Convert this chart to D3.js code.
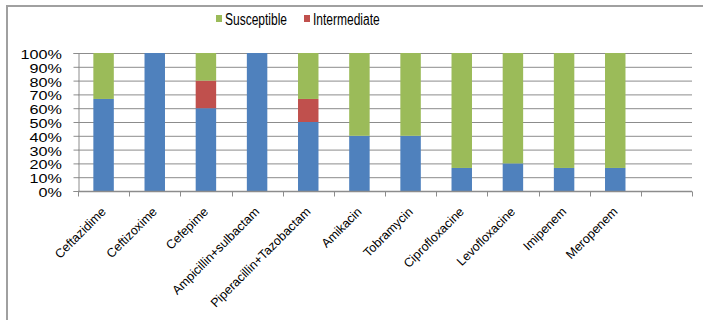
<!DOCTYPE html>
<html>
<head>
<meta charset="utf-8">
<script src="https://cdn.jsdelivr.net/npm/d3@7"></script>
<style>
  body { margin: 0; background: #fff; }
  svg { display: block; font-family: "Liberation Sans", Arial, sans-serif; }
</style>
</head>
<body>
<svg id="chart" width="703" height="320"></svg>
<script>
// Antibiotic categories (last slot is an empty category)
const categories = [
  "Ceftazidime", "Ceftizoxime", "Cefepime", "Ampicillin+sulbactam",
  "Piperacillin+Tazobactam", "Amikacin", "Tobramycin", "Ciprofloxacine",
  "Levofloxacine", "Imipenem", "Meropenem", ""
];
// Percentages per category
const resistant    = [66.7, 100, 60, 100, 50, 40, 40, 16.7, 20, 16.7, 16.7, 0];
const intermediate = [0, 0, 20, 0, 16.7, 0, 0, 0, 0, 0, 0, 0];
const susceptible  = [33.3, 0, 20, 0, 33.3, 60, 60, 83.3, 80, 83.3, 83.3, 0];
const yTicks = [0, 10, 20, 30, 40, 50, 60, 70, 80, 90, 100];

const seriesNames = ["Resistant", "Intermediate", "Susceptible"];
const colors = { Resistant: "#4f81bd", Intermediate: "#c0504d", Susceptible: "#9bbb59" };
const legendItems = ["Susceptible", "Intermediate"];

const rows = categories.map((c, i) => ({
  key: i, name: c,
  Resistant: resistant[i], Intermediate: intermediate[i], Susceptible: susceptible[i]
}));

const svg = d3.select("#chart");
const margin = { left: 78, right: 11, top: 53, bottom: 129 };
const W = 703, H = 320;

// outer frame
svg.append("rect")
  .attr("x", 7).attr("y", 6).attr("width", 720).attr("height", 340)
  .attr("fill", "none").attr("stroke", "#a0a0a0").attr("stroke-width", 2);

const x = d3.scaleBand()
  .domain(rows.map(d => d.key))
  .range([margin.left, W - margin.right])
  .paddingInner(0.6).paddingOuter(0.3);

const y = d3.scaleLinear().domain([0, 100]).range([H - margin.bottom, margin.top]);

// gridlines
svg.append("g").selectAll("line").data(yTicks.filter(t => t > 0)).join("line")
  .attr("x1", margin.left).attr("x2", W - margin.right)
  .attr("y1", d => y(d) + 0.5).attr("y2", d => y(d) + 0.5)
  .attr("stroke", "#8c8c8c").attr("stroke-width", 1);

// stacked bars
const stack = d3.stack().keys(seriesNames)(rows);
svg.append("g").selectAll("g").data(stack).join("g")
  .attr("fill", s => colors[s.key])
  .selectAll("rect").data(s => s).join("rect")
  .attr("x", d => x(d.data.key))
  .attr("width", x.bandwidth())
  .attr("y", d => y(d[1]))
  .attr("height", d => y(d[0]) - y(d[1]));

// y axis
const yAxis = svg.append("g")
  .attr("transform", `translate(${margin.left + 0.5},0)`)
  .call(d3.axisLeft(y).tickValues(yTicks).tickFormat(d => d + "%").tickSize(5).tickPadding(0));
yAxis.select(".domain").attr("stroke", "#8c8c8c");
yAxis.selectAll(".tick line").attr("stroke", "#8c8c8c");
yAxis.selectAll(".tick text")
  .attr("x", null)
  .attr("dy", "0.4em")
  .attr("transform", "translate(-16.5,0) scale(1.2,1)")
  .attr("font-size", 13.5).attr("fill", "#000")
  .attr("font-family", "Liberation Sans, Arial, sans-serif");

// x axis (ticks on band boundaries)
const xAxisG = svg.append("g").attr("transform", `translate(0,${y(0) + 0.5})`);
const step = x.step();
const boundaries = d3.range(categories.length + 1).map(i => margin.left + i * step);
xAxisG.append("line")
  .attr("x1", margin.left).attr("x2", W - margin.right)
  .attr("stroke", "#8c8c8c").attr("stroke-width", 1.5);
xAxisG.selectAll("line.tk").data(boundaries).join("line")
  .attr("class", "tk")
  .attr("x1", d => Math.round(d) + 0.5).attr("x2", d => Math.round(d) + 0.5)
  .attr("y1", 0).attr("y2", 5).attr("stroke", "#8c8c8c");
xAxisG.selectAll("text").data(rows).join("text")
  .attr("transform", d => `translate(${x(d.key) + x.bandwidth() / 2 + 3},${21}) rotate(-45)`)
  .attr("text-anchor", "end")
  .attr("font-size", 12.5)
  .attr("fill", "#000")
  .text(d => d.name);

// legend
const legend = svg.append("g");
const legendX = [216, 304];
legendItems.forEach((name, i) => {
  const g = legend.append("g").attr("transform", `translate(${legendX[i]},15)`);
  g.append("rect").attr("width", 6).attr("height", 7).attr("fill", colors[name]);
  g.append("text")
    .attr("transform", "translate(9,10) scale(0.75,1)")
    .attr("font-size", 16).attr("fill", "#000").text(name);
});
</script>
</body>
</html>
